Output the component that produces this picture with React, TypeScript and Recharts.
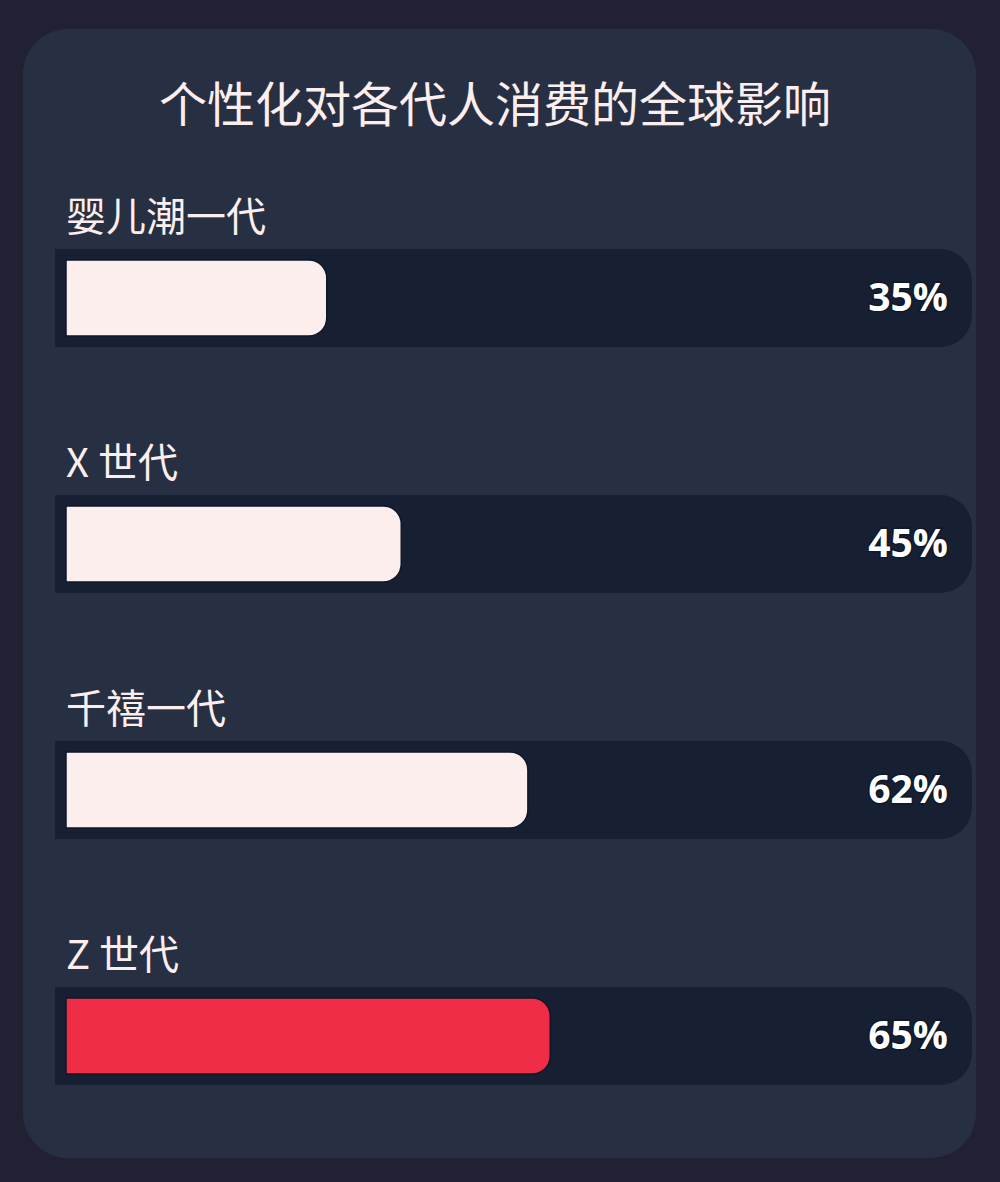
import { Bar, BarChart, Cell, LabelList, XAxis, YAxis } from "recharts";

const TITLE = "个性化对各代人消费的全球影响";
const GENERATIONS = ["婴儿潮一代", "X 世代", "千禧一代", "Z 世代"];
const SHARES = [35, 45, 62, 65];
const HIGHLIGHT = "Z 世代";

const PAGE_BG = "#212133";
const CARD_BG = "#273042";
const TRACK = "#172033";
const BAR = "#fdeeee";
const BAR_HOT = "#f02d47";
const TEXT = "#fdeeee";
const CJK = "'Noto Sans CJK SC', 'Noto Sans', sans-serif";

const data = GENERATIONS.map((name, i) => ({ name, value: SHARES[i] }));

// right-rounded rect path, square on the left
function rightRounded(x: number, y: number, w: number, h: number, r: number) {
  const rr = Math.min(r, w, h / 2);
  return `M${x},${y} H${x + w - rr} A${rr},${rr} 0 0 1 ${x + w},${y + rr} V${y + h - rr} A${rr},${rr} 0 0 1 ${x + w - rr},${y + h} H${x} Z`;
}

function BarShape(props: any) {
  const { x, y, width, height, fill } = props;
  return (
    <g>
      {/* the track behind each bar */}
      <path d={rightRounded(55, y - 11, 917, height + 22, 32)} fill={TRACK} />
      <path d={rightRounded(x, y, width, height, 18)} fill={fill} stroke="#0f172a" strokeWidth={1.5} />
    </g>
  );
}

function NameLabel(props: any) {
  const { y, value } = props;
  return (
    <text x={66} y={y - 29} fill={TEXT} fontSize={40} fontFamily={CJK} textAnchor="start">
      {value}
    </text>
  );
}

function PctLabel(props: any) {
  const { y, height, value } = props;
  return (
    <text
      x={948}
      y={y + height / 2 + 13}
      textAnchor="end"
      fill="#ffffff"
      fontSize={39}
      fontWeight={700}
      fontFamily="'Open Sans', 'Noto Sans', sans-serif"
      stroke="#0f172a"
      strokeWidth={3}
      paintOrder="stroke"
    >
      {value}%
    </text>
  );
}

export default function App() {
  return (
    <div style={{ position: "absolute", left: 0, top: 0, width: 1000, height: 1182, background: PAGE_BG }}>
      <div
        style={{
          position: "absolute",
          left: 23,
          top: 29,
          width: 953,
          height: 1129,
          borderRadius: 45,
          background: CARD_BG,
        }}
      />
      <div
        style={{
          position: "absolute",
          left: 0,
          top: 70,
          width: 990,
          textAlign: "center",
          color: TEXT,
          fontFamily: CJK,
          fontSize: 48,
          lineHeight: "62px",
        }}
      >
        {TITLE}
      </div>
      <div style={{ position: "absolute", left: 0, top: 0 }}>
        <BarChart
          width={1000}
          height={1182}
          data={data}
          layout="vertical"
          margin={{ top: 175, right: 189, bottom: 23, left: 66 }}
        >
          <XAxis type="number" domain={[0, 100]} hide />
          <YAxis type="category" dataKey="name" hide />
          <Bar dataKey="value" barSize={76} shape={<BarShape />} isAnimationActive={false}>
            {data.map((d) => (
              <Cell key={d.name} fill={d.name === HIGHLIGHT ? BAR_HOT : BAR} />
            ))}
            <LabelList dataKey="name" content={<NameLabel />} />
            <LabelList dataKey="value" content={<PctLabel />} />
          </Bar>
        </BarChart>
      </div>
    </div>
  );
}
